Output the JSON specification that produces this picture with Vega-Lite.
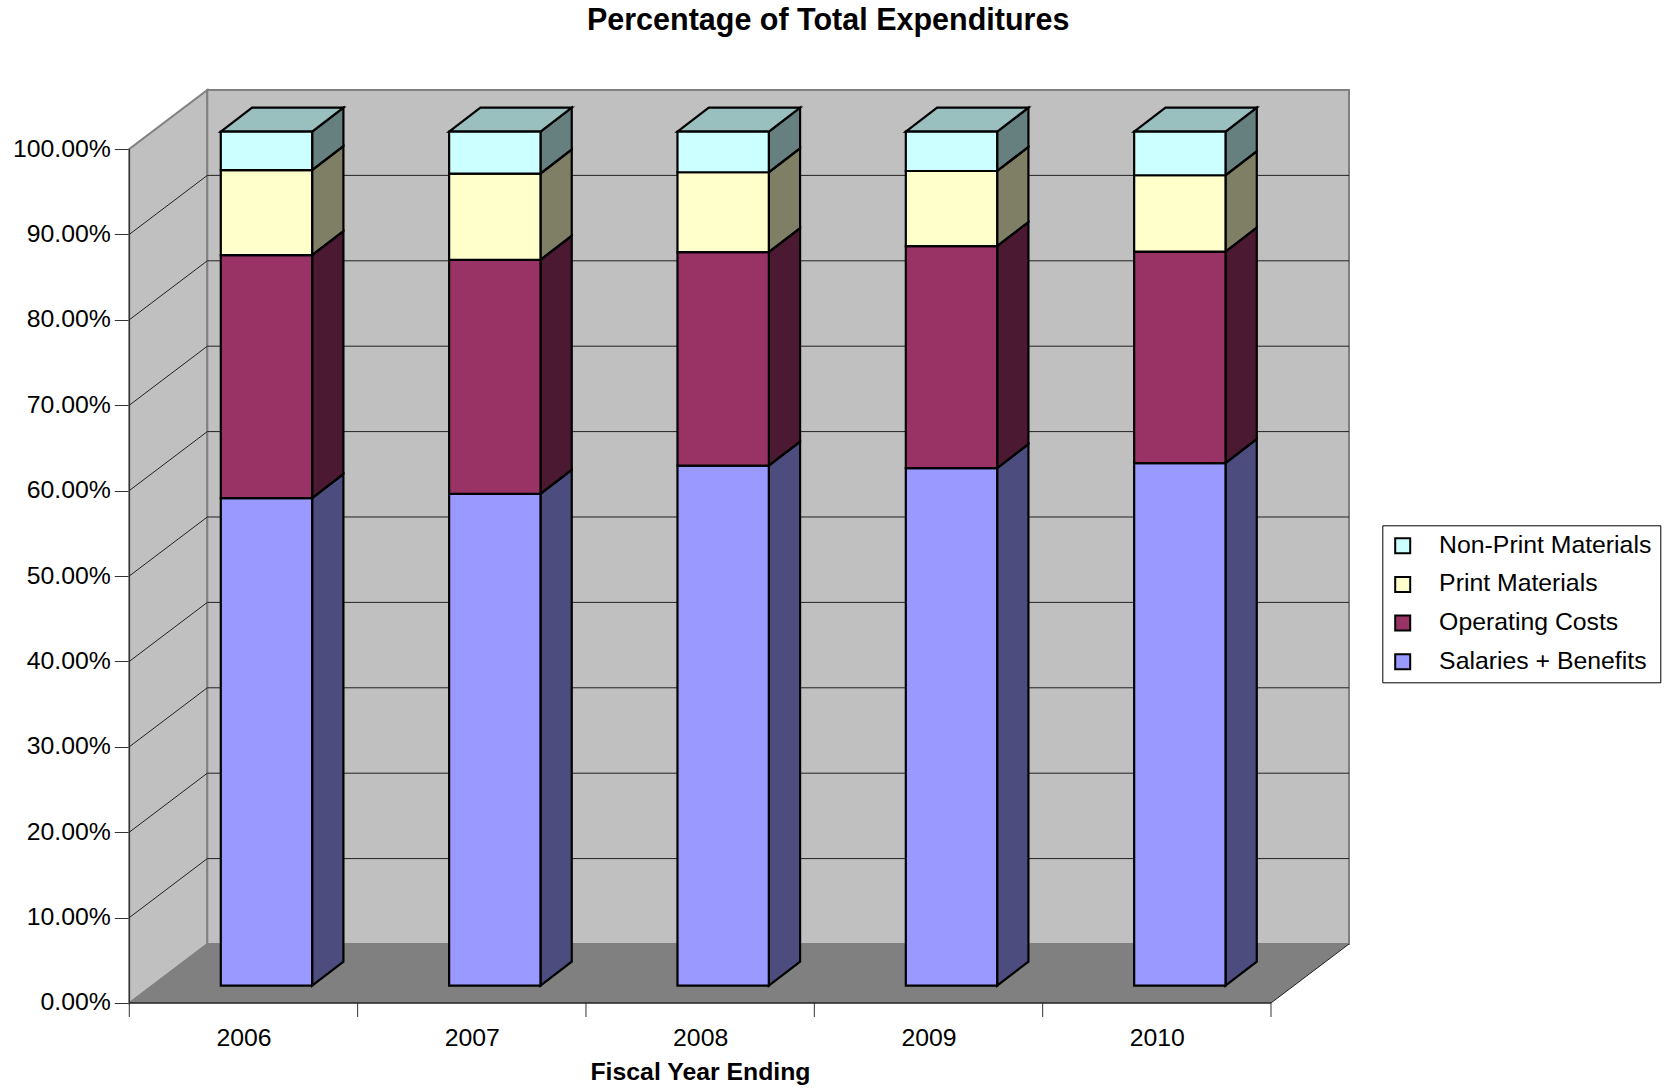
{
 "$schema":"https://vega.github.io/schema/vega-lite/v6.json",
 "autosize":"none","width":1219.7,"height":927,
 "padding":{"left":129.3,"top":90,"right":325,"bottom":72},
 "background":"white",
 "config":{"view":{"stroke":null},"font":"Liberation Sans"},
 "title":{"text":"Percentage of Total Expenditures","font":"Liberation Sans","fontSize":30.5,"fontWeight":"bold","color":"black","anchor":"middle","dx":89,"offset":50},
 "resolve":{"axis":{"x":"independent","y":"independent"}},
 "layer":[
  {"data":{"values":[{"k":0},{"k":1}]},
   "transform":[{"calculate":"2005.5+datum.k*0.3416","as":"wx"},{"calculate":"datum.k*6.91","as":"wy"},{"calculate":"100+datum.k*6.91","as":"wy2"}],
   "mark":{"type":"area","orient":"vertical","fill":"#c0c0c0","stroke":"#808080","strokeWidth":2},
   "encoding":{
    "x":{"field":"wx","type":"quantitative","scale":{"domain":[2005.5,2010.8416],"zero":false,"nice":false},
     "axis":{"values":[2006,2007,2008,2009,2010],"format":"d","tickSize":0,"domain":false,"grid":false,"labelFontSize":24.8,"labelColor":"black","labelPadding":8,"labelFont":"Liberation Sans","labelOverlap":false,"labelFlush":false,
      "title":"Fiscal Year Ending","titleFont":"Liberation Sans","titleFontSize":24.8,"titleFontWeight":"bold","titleColor":"black","titleX":570.7,"titleY":55,"titleBaseline":"middle"}},
    "y":{"field":"wy","type":"quantitative","stack":null,"scale":{"domain":[-1.64,106.91],"zero":false,"nice":false},
     "axis":{"values":[0,10,20,30,40,50,60,70,80,90,100],"labelExpr":"format(datum.value,'.2f')+'%'","tickSize":15,"tickColor":"#333333","domain":false,"grid":false,"labelFontSize":24.8,"labelColor":"black","labelPadding":4,"labelFont":"Liberation Sans","labelOverlap":false,"labelFlush":false,"title":null}},
    "y2":{"field":"wy2"}}},
  {"data":{"values":[{}]},
   "mark":{"type":"rect","fill":"#c0c0c0","stroke":"#808080","strokeWidth":2},
   "encoding":{"x":{"datum":2005.8416,"type":"quantitative","axis":null},"x2":{"datum":2010.8416},"y":{"datum":6.91,"type":"quantitative","axis":null},"y2":{"datum":106.91}}},
  {"data":{"values":[{"k":0},{"k":1}]},
   "transform":[{"calculate":"datum.k*6.91","as":"fy"},{"calculate":"2005.5+datum.k*0.3416","as":"fx"},{"calculate":"2010.5+datum.k*0.3416","as":"fx2"}],
   "mark":{"type":"area","orient":"horizontal","fill":"#808080"},
   "encoding":{"y":{"field":"fy","type":"quantitative","axis":null},"x":{"field":"fx","type":"quantitative","stack":null,"axis":null},"x2":{"field":"fx2"}}},
  {"data":{"values":[{"tick":10},{"tick":20},{"tick":30},{"tick":40},{"tick":50},{"tick":60},{"tick":70},{"tick":80},{"tick":90}]},
   "layer":[
    {"transform":[{"calculate":"datum.tick+6.91","as":"by"}],
     "mark":{"type":"rule","color":"#222222","strokeWidth":1},
     "encoding":{"x":{"datum":2005.8416,"type":"quantitative","axis":null},"x2":{"datum":2010.8416},"y":{"field":"by","type":"quantitative","axis":null}}},
    {"transform":[{"calculate":"datum.tick+6.91","as":"by"}],
     "mark":{"type":"rule","color":"#222222","strokeWidth":1},
     "encoding":{"x":{"datum":2005.5,"type":"quantitative","axis":null},"x2":{"datum":2005.8416},"y":{"field":"tick","type":"quantitative","axis":null},"y2":{"field":"by"}}}
   ]},
  {"data":{"values":[{"edge":2005.5},{"edge":2006.5},{"edge":2007.5},{"edge":2008.5},{"edge":2009.5},{"edge":2010.5}]},
   "mark":{"type":"rule","color":"#333333","strokeWidth":1},
   "encoding":{"x":{"field":"edge","type":"quantitative","axis":null},"y":{"datum":-1.64,"type":"quantitative","axis":null},"y2":{"datum":0}}},
  {"data":{"values":[{}]},"mark":{"type":"rule","color":"#222222","strokeWidth":1},
   "encoding":{"x":{"datum":2005.5,"type":"quantitative","axis":null},"y":{"datum":0,"type":"quantitative","axis":null},"y2":{"datum":100}}},
  {"data":{"values":[{}]},"mark":{"type":"rule","color":"#222222","strokeWidth":1.5},
   "encoding":{"x":{"datum":2005.5,"type":"quantitative","axis":null},"x2":{"datum":2010.5},"y":{"datum":0,"type":"quantitative","axis":null}}},
  {"data":{"values":[{}]},"mark":{"type":"rule","color":"#222222","strokeWidth":1},
   "encoding":{"x":{"datum":2010.5,"type":"quantitative","axis":null},"x2":{"datum":2010.8416},"y":{"datum":0,"type":"quantitative","axis":null},"y2":{"datum":6.91}}},
  {"data":{"values":[
    {"year":2006,"series":"Salaries + Benefits","value":57.1},{"year":2006,"series":"Operating Costs","value":28.45},{"year":2006,"series":"Print Materials","value":9.95},{"year":2006,"series":"Non-Print Materials","value":4.5},
    {"year":2007,"series":"Salaries + Benefits","value":57.6},{"year":2007,"series":"Operating Costs","value":27.4},{"year":2007,"series":"Print Materials","value":10.1},{"year":2007,"series":"Non-Print Materials","value":4.9},
    {"year":2008,"series":"Salaries + Benefits","value":60.9},{"year":2008,"series":"Operating Costs","value":25.0},{"year":2008,"series":"Print Materials","value":9.35},{"year":2008,"series":"Non-Print Materials","value":4.75},
    {"year":2009,"series":"Salaries + Benefits","value":60.6},{"year":2009,"series":"Operating Costs","value":26.0},{"year":2009,"series":"Print Materials","value":8.8},{"year":2009,"series":"Non-Print Materials","value":4.6},
    {"year":2010,"series":"Salaries + Benefits","value":61.2},{"year":2010,"series":"Operating Costs","value":24.75},{"year":2010,"series":"Print Materials","value":8.95},{"year":2010,"series":"Non-Print Materials","value":5.1}
   ]},
   "transform":[
    {"stack":"value","groupby":["year"],"as":["lo","hi"]},
    {"calculate":"datum.year+0.1007-0.2","as":"xl"},
    {"calculate":"datum.year+0.1007+0.2","as":"xr"},
    {"calculate":"datum.lo+2.026","as":"yl"},
    {"calculate":"datum.hi+2.026","as":"yh"}
   ],
   "layer":[
    {"transform":[{"calculate":"[0,1]","as":"k"},{"flatten":["k"]},{"calculate":"datum.xr+datum.k*0.137","as":"sx"},{"calculate":"datum.yl+datum.k*2.81","as":"sy"},{"calculate":"datum.yh+datum.k*2.81","as":"sy2"}],
     "layer":[
      {"mark":{"type":"area","orient":"vertical"},
       "encoding":{"x":{"field":"sx","type":"quantitative","axis":null},"y":{"field":"sy","type":"quantitative","stack":null,"axis":null},"y2":{"field":"sy2"},"detail":{"field":"year"},
        "fill":{"field":"series","type":"nominal"}}},
      {"mark":{"type":"area","orient":"vertical","fill":"black","fillOpacity":0.5,"stroke":"black","strokeWidth":2.2,"strokeJoin":"miter"},
       "encoding":{"x":{"field":"sx","type":"quantitative","axis":null},"y":{"field":"sy","type":"quantitative","stack":null,"axis":null},"y2":{"field":"sy2"},"detail":[{"field":"year"},{"field":"series"}]}}
     ]},
    {"transform":[{"filter":"datum.series=='Non-Print Materials'"},{"calculate":"[0,1]","as":"k"},{"flatten":["k"]},{"calculate":"datum.yh+datum.k*2.81","as":"ty"},{"calculate":"datum.xl+datum.k*0.137","as":"tx"},{"calculate":"datum.xr+datum.k*0.137","as":"tx2"}],
     "layer":[
      {"mark":{"type":"area","orient":"horizontal"},
       "encoding":{"y":{"field":"ty","type":"quantitative","axis":null},"x":{"field":"tx","type":"quantitative","stack":null,"axis":null},"x2":{"field":"tx2"},"detail":{"field":"year"},
        "fill":{"field":"series","type":"nominal"}}},
      {"mark":{"type":"area","orient":"horizontal","fill":"black","fillOpacity":0.25,"stroke":"black","strokeWidth":2.2,"strokeJoin":"miter"},
       "encoding":{"y":{"field":"ty","type":"quantitative","axis":null},"x":{"field":"tx","type":"quantitative","stack":null,"axis":null},"x2":{"field":"tx2"},"detail":{"field":"year"}}}
     ]},
    {"mark":{"type":"rect","stroke":"black","strokeWidth":2.2},
     "encoding":{"x":{"field":"xl","type":"quantitative","axis":null},"x2":{"field":"xr"},"y":{"field":"yl","type":"quantitative","axis":null},"y2":{"field":"yh"},
      "fill":{"field":"series","type":"nominal",
       "scale":{"domain":["Non-Print Materials","Print Materials","Operating Costs","Salaries + Benefits"],"range":["#ccffff","#ffffcc","#993366","#9999ff"]},
       "legend":{"title":null,"orient":"none","legendX":1253,"legendY":435.3,"fillColor":"white","strokeColor":"black","padding":8,"symbolType":"square","symbolSize":225,"symbolStrokeWidth":2,"symbolStrokeColor":"black","labelFontSize":24.8,"labelFont":"Liberation Sans","labelColor":"black","labelLimit":400,"rowPadding":12.7,"labelOffset":24,
        "labelExpr":"datum.label=='Non-Print Materials'?datum.label:'\u00a0\u00a0\u00a0'+datum.label"}}}}
   ]}
 ]
}
